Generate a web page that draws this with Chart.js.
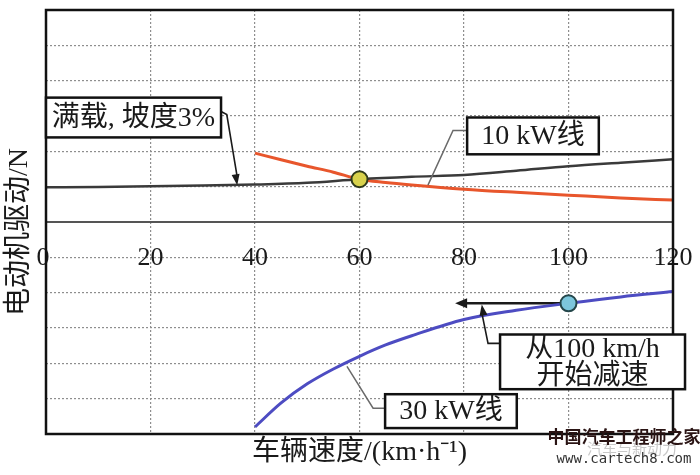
<!DOCTYPE html>
<html>
<head>
<meta charset="utf-8">
<script src="https://cdn.jsdelivr.net/npm/chart.js@4/dist/chart.umd.min.js"></script>
<style>
  html, body { margin: 0; padding: 0; background: #fff; }
  #wrap { width: 700px; height: 475px; position: relative; }
</style>
</head>
<body>
<div id="wrap"><canvas id="driveChart"></canvas></div>
<script>
// values (speed in km/h, force in N)
var speedLoad = [0, 10, 20, 30, 40, 50, 60, 70, 80, 90, 100, 110, 120];
var forceLoad = [490, 495, 505, 515, 530, 555, 605, 640, 665, 725, 790, 840, 887];

var speed10kW = [40, 45, 50, 55, 60, 65, 70, 80, 90, 100, 110, 120];
var force10kW = [975, 880, 790, 705, 605, 560, 525, 465, 420, 380, 340, 310];

var speed30kW = [40, 45, 50, 55, 60, 65, 70, 80, 90, 100, 110, 120];
var force30kW = [-2900, -2560, -2290, -2080, -1900, -1740, -1610, -1380, -1250, -1150, -1060, -985];

var markerSpeed = [60, 100];
var markerForce = [605, -1150];

var xTicks = [0, 20, 40, 60, 80, 100, 120];

var FONT = "'Liberation Serif', 'Noto Sans CJK SC', serif";

function pts(xs, ys) {
    return xs.map(function (x, i) { return { x: x, y: ys[i] }; });
}

function arrowHead(ctx, x0, y0, x1, y1, len, half) {
    var a = Math.atan2(y1 - y0, x1 - x0);
    ctx.beginPath();
    ctx.moveTo(x1, y1);
    ctx.lineTo(x1 - len * Math.cos(a) + half * Math.sin(a), y1 - len * Math.sin(a) - half * Math.cos(a));
    ctx.lineTo(x1 - len * Math.cos(a) - half * Math.sin(a), y1 - len * Math.sin(a) + half * Math.cos(a));
    ctx.closePath();
    ctx.fill();
}

function textBox(ctx, x0, y0, x1, y1, lines) {
    ctx.fillStyle = "#fff";
    ctx.fillRect(x0, y0, x1 - x0, y1 - y0);
    ctx.strokeStyle = "#111";
    ctx.lineWidth = 2.5;
    ctx.strokeRect(x0, y0, x1 - x0, y1 - y0);
    ctx.fillStyle = "#1a1a1a";
    ctx.font = "28px " + FONT;
    ctx.textAlign = "center";
    ctx.textBaseline = "middle";
    var cx = (x0 + x1) / 2, h = (y1 - y0) / lines.length;
    lines.forEach(function (t, i) { ctx.fillText(t, cx, y0 + h * (i + 0.5) + 1); });
}

var framePlugin = {
    id: "frame",
    beforeDatasetsDraw: function (chart) {
        var ctx = chart.ctx, a = chart.chartArea;
        var xs = chart.scales.x, ys = chart.scales.y;
        function P(x, y) { return [xs.getPixelForValue(x), ys.getPixelForValue(y)]; }
        ctx.save();
        // tick labels sit on the -500 gridline
        ctx.fillStyle = "#1a1a1a";
        ctx.font = "26px " + FONT;
        ctx.textAlign = "center";
        ctx.textBaseline = "middle";
        var ty = ys.getPixelForValue(-500);
        xTicks.forEach(function (v) { ctx.fillText(String(v), xs.getPixelForValue(v) - (v === 0 ? 3 : 0), ty + 1); });

        // y axis title
        ctx.save();
        ctx.translate(20, (a.top + a.bottom) / 2 + 10);
        ctx.rotate(-Math.PI / 2);
        ctx.font = "28px " + FONT;
        ctx.fillText("电动机驱动/N", 0, 0);
        ctx.restore();

        // arrow that sits under the marker
        ctx.strokeStyle = "#1a1a1a";
        ctx.fillStyle = "#1a1a1a";
        ctx.lineWidth = 2.5;
        var s = P(100, -1150), e = P(78.3, -1150);
        ctx.beginPath(); ctx.moveTo(s[0], s[1]); ctx.lineTo(e[0] + 8, e[1]); ctx.stroke();
        arrowHead(ctx, s[0], s[1], e[0], e[1], 12, 5);
        ctx.restore();
    },
    afterDatasetsDraw: function (chart) {
        var ctx = chart.ctx, a = chart.chartArea;
        var xs = chart.scales.x, ys = chart.scales.y;
        function P(x, y) { return [xs.getPixelForValue(x), ys.getPixelForValue(y)]; }
        ctx.save();
        ctx.strokeStyle = "#111";
        ctx.lineWidth = 2.5;
        ctx.strokeRect(a.left, a.top, a.right - a.left, a.bottom - a.top);

        // 满载 leader
        ctx.strokeStyle = "#1a1a1a";
        ctx.fillStyle = "#1a1a1a";
        ctx.lineWidth = 1.6;
        var p1 = P(33.6, 1560), p2 = P(34.6, 1521), p3 = P(36.6, 521);
        ctx.beginPath(); ctx.moveTo(p1[0], p1[1]); ctx.lineTo(p2[0], p2[1]); ctx.lineTo(p3[0], p3[1] - 8); ctx.stroke();
        arrowHead(ctx, p2[0], p2[1], p3[0], p3[1], 11, 4);

        // 10 kW leader
        ctx.strokeStyle = "#6a6a6a";
        ctx.lineWidth = 1.5;
        var q1 = P(80.6, 1296), q2 = P(77.9, 1296), q3 = P(73.1, 521);
        ctx.beginPath(); ctx.moveTo(q1[0], q1[1]); ctx.lineTo(q2[0], q2[1]); ctx.lineTo(q3[0], q3[1]); ctx.stroke();

        // 减速 leader
        ctx.strokeStyle = "#1a1a1a";
        ctx.lineWidth = 1.6;
        var r1 = P(86.9, -1718), r2 = P(84.6, -1718), r3 = P(83.4, -1169);
        ctx.beginPath(); ctx.moveTo(r1[0], r1[1]); ctx.lineTo(r2[0], r2[1]); ctx.lineTo(r3[0], r3[1] + 8); ctx.stroke();
        arrowHead(ctx, r2[0], r2[1], r3[0], r3[1], 11, 4);

        // 30 kW leader
        ctx.strokeStyle = "#6a6a6a";
        ctx.lineWidth = 1.5;
        var u1 = P(57.6, -2042), u2 = P(62.6, -2634), u3 = P(64.9, -2634);
        ctx.beginPath(); ctx.moveTo(u1[0], u1[1]); ctx.lineTo(u2[0], u2[1]); ctx.lineTo(u3[0], u3[1]); ctx.stroke();

        // boxes
        var b;
        b = [P(0, 1760), P(33.5, 1197)];
        textBox(ctx, b[0][0], b[0][1], b[1][0], b[1][1], ["满载, 坡度3%"]);
        b = [P(80.6, 1479), P(105.8, 958)];
        textBox(ctx, b[0][0], b[0][1], b[1][0], b[1][1], ["10 kW线"]);
        b = [P(86.9, -1592), P(122.3, -2366)];
        textBox(ctx, b[0][0], b[0][1], b[1][0], b[1][1], ["从100 km/h", "开始减速"]);
        b = [P(64.9, -2437), P(90.1, -2916)];
        textBox(ctx, b[0][0], b[0][1], b[1][0], b[1][1], ["30 kW线"]);

        // watermark
        ctx.textAlign = "center";
        ctx.textBaseline = "middle";
        ctx.fillStyle = "#c8c8c8";
        ctx.font = "15px 'Noto Sans CJK SC'";
        ctx.fillText("汽车与新动力", 632, 448);
        ctx.fillStyle = "#2a1414";
        ctx.font = "bold 17px 'Noto Sans CJK SC'";
        ctx.fillText("中国汽车工程师之家", 624, 437);
        ctx.fillStyle = "#333";
        ctx.font = "14px 'DejaVu Sans Mono'";
        ctx.fillText("www.cartech8.com", 624, 459);
        ctx.restore();
    }
};

var driveChart = new Chart(document.getElementById("driveChart").getContext("2d"), {
    type: "line",
    data: {
        datasets: [{
            data: pts(markerSpeed, markerForce),
            showLine: false,
            pointRadius: 8,
            pointBorderWidth: 2,
            pointBackgroundColor: ["#d8d24c", "#7cc6dc"],
            pointBorderColor: ["#2f3a1a", "#24464a"]
        }, {
            data: pts(speedLoad, forceLoad),
            borderColor: "#3a3a3a",
            borderWidth: 2.5,
            pointRadius: 0,
            cubicInterpolationMode: "monotone"
        }, {
            data: pts(speed10kW, force10kW),
            borderColor: "#e8562c",
            borderWidth: 3,
            pointRadius: 0,
            cubicInterpolationMode: "monotone"
        }, {
            data: pts(speed30kW, force30kW),
            borderColor: "#4d4cc2",
            borderWidth: 3,
            pointRadius: 0,
            cubicInterpolationMode: "monotone"
        }]
    },
    options: {
        responsive: true,
        maintainAspectRatio: false,
        animation: false,
        layout: { padding: { top: 8, right: 27, left: 46, bottom: 0 } },
        plugins: {
            legend: { display: false },
            tooltip: { enabled: false }
        },
        scales: {
            x: {
                type: "linear",
                min: 0,
                max: 120,
                ticks: { display: false, stepSize: 20 },
                grid: { color: "#8e8e8e", lineWidth: 1.2, drawTicks: false },
                border: { display: false, dash: [2, 2] },
                title: {
                    display: true,
                    text: "车辆速度/(km·h⁻¹)",
                    color: "#1a1a1a",
                    font: { size: 28, family: FONT },
                    padding: { top: 0, bottom: 6 }
                },
                afterFit: function (s) { s.height = 41; }
            },
            y: {
                min: -3000,
                max: 3000,
                ticks: { display: false, stepSize: 500 },
                grid: {
                    drawTicks: false,
                    color: function (c) { return c.tick && c.tick.value === 0 ? "#555" : "#8e8e8e"; },
                    lineWidth: function (c) { return c.tick && c.tick.value === 0 ? 2 : 1.2; }
                },
                border: {
                    display: false,
                    dash: function (c) { return c.tick && c.tick.value === 0 ? [] : [2, 2]; }
                },
                afterFit: function (s) { s.width = 0; }
            }
        }
    },
    plugins: [framePlugin]
});
</script>
</body>
</html>
